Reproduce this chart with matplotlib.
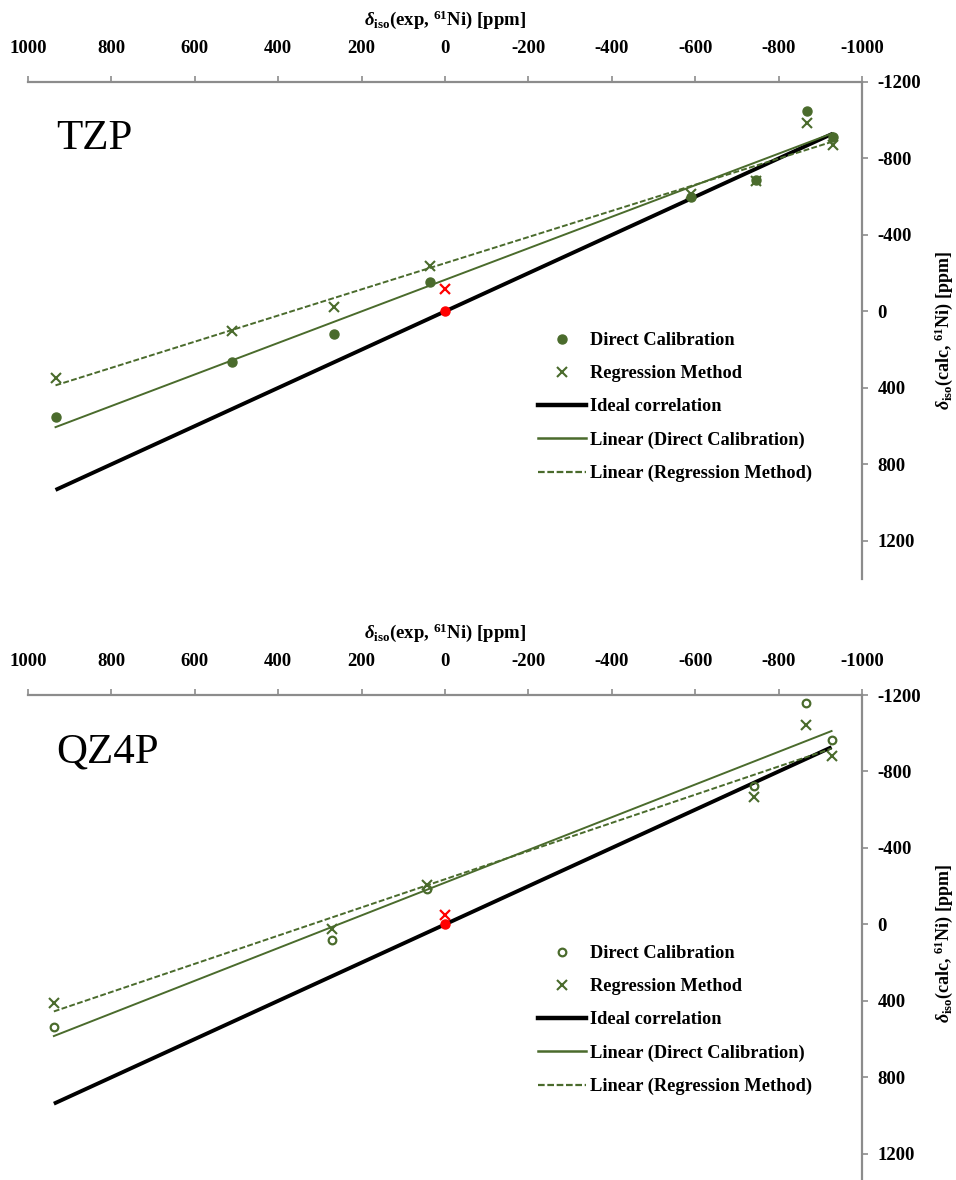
import numpy as np
import matplotlib
matplotlib.use("Agg")
import matplotlib.pyplot as plt
from matplotlib.lines import Line2D

plt.rcParams["font.family"] = ["Liberation Serif", "DejaVu Serif"]
plt.rcParams["mathtext.fontset"] = "custom"
plt.rcParams["mathtext.rm"] = "Liberation Serif:bold"
plt.rcParams["mathtext.bf"] = "Liberation Serif:bold"
plt.rcParams["mathtext.it"] = "Liberation Serif:italic:bold"

# ---- data -------------------------------------------------------------
# TZP basis set
tzp_exp = [934, 511, 265, 37, -591, -745, -868, -930]
tzp_direct = [555, 264, 117, -152, -600, -688, -1048, -913]
tzp_regr = [348, 103, -24, -239, -615, -680, -987, -872]
tzp_ref_exp = [0]
tzp_ref_direct = [0]
tzp_ref_regr = [-117]

# QZ4P basis set
qz_exp = [938, 271, 42, -742, -865, -927]
qz_direct = [535, 82, -185, -722, -1156, -962]
qz_regr = [410, 25, -205, -667, -1045, -881]
qz_ref_exp = [0]
qz_ref_direct = [0]
qz_ref_regr = [-50]

x_ticks = [1000, 800, 600, 400, 200, 0, -200, -400, -600, -800, -1000]
y_ticks = [-1200, -800, -400, 0, 400, 800, 1200]

GREEN = "#4A6B2C"
AXIS_GREY = "#8C8C8C"

W, H = 956, 1180
fig = plt.figure(figsize=(W / 100, H / 100), dpi=100)


def axes_rect(left, right, top, bottom):
    return [left / W, 1 - bottom / H, (right - left) / W, (bottom - top) / H]


xlabel = r"$\mathit{\delta}_{\mathbf{iso}}$(exp, $^{\mathbf{61}}$Ni) [ppm]"
ylabel = r"$\mathit{\delta}_{\mathbf{iso}}$(calc, $^{\mathbf{61}}$Ni) [ppm]"


def panel(rect, name, x, yd, yr, rx, ryd, ryr, hollow):
    ax = fig.add_axes(rect)
    ax.set_xlim(1000, -1000)
    ax.set_ylim(1400, -1200)

    xa = np.array(x, dtype=float)
    xs = np.array([xa.max(), xa.min()])

    # ideal y = x correlation
    ax.plot(xs, xs, color="black", lw=2.8, solid_capstyle="butt", zorder=2)

    # linear trend lines
    cd = np.polyfit(xa, np.array(yd, dtype=float), 1)
    cr = np.polyfit(xa, np.array(yr, dtype=float), 1)
    ax.plot(xs, np.polyval(cd, xs), color=GREEN, lw=1.4, zorder=3)
    ax.plot(xs, np.polyval(cr, xs), color=GREEN, lw=1.4, ls=(0, (3, 1.2)), zorder=3)

    if hollow:
        ckw = dict(marker="o", ms=5.5, mfc="none", mec=GREEN, mew=1.6, ls="none")
    else:
        ckw = dict(marker="o", ms=6.5, mfc=GREEN, mec=GREEN, ls="none")
    xkw = dict(marker="x", ms=7.5, mew=1.5, color=GREEN, ls="none")

    ax.plot(x, yd, zorder=4, **ckw)
    ax.plot(x, yr, zorder=4, **xkw)

    # reference compound
    ax.plot(rx, ryd, marker="o", ms=6.5, color="red", ls="none", zorder=5)
    ax.plot(rx, ryr, marker="x", ms=7.5, mew=1.6, color="red", ls="none", zorder=5)

    # axes styling
    for s in ("left", "bottom"):
        ax.spines[s].set_visible(False)
    for s in ("top", "right"):
        ax.spines[s].set_color(AXIS_GREY)
        ax.spines[s].set_linewidth(1.6)
    ax.xaxis.tick_top()
    ax.yaxis.tick_right()
    ax.set_xticks(x_ticks)
    ax.set_yticks(y_ticks)
    ax.set_xticklabels([str(v) for v in x_ticks])
    ax.set_yticklabels([str(v) for v in y_ticks])
    ax.tick_params(axis="both", direction="out", length=4, width=1.2,
                   color=AXIS_GREY, labelsize=13.5)
    ax.tick_params(axis="x", pad=14)
    ax.tick_params(axis="y", pad=7)
    for lab in ax.get_xticklabels() + ax.get_yticklabels():
        lab.set_fontweight("bold")

    ax.xaxis.set_label_position("top")
    ax.set_xlabel(xlabel, fontsize=13.5, fontweight="bold", labelpad=11)
    ax.yaxis.set_label_position("right")
    ax.set_ylabel(ylabel, fontsize=13, fontweight="bold", labelpad=8,
                  rotation=90)

    ax.text(0.034, 0.885, name, transform=ax.transAxes, fontsize=31,
            va="center", ha="left")

    handles = [
        Line2D([], [], **ckw),
        Line2D([], [], **xkw),
        Line2D([], [], color="black", lw=3.2),
        Line2D([], [], color=GREEN, lw=1.8),
        Line2D([], [], color=GREEN, lw=1.6, ls=(0, (3, 1.2))),
    ]
    labels = ["Direct Calibration", "Regression Method", "Ideal correlation",
              "Linear (Direct Calibration)", "Linear (Regression Method)"]
    ax.legend(handles, labels, loc="upper left",
              bbox_to_anchor=(0.612, 0.497), frameon=False,
              prop={"family": "Liberation Serif", "weight": "bold",
                    "size": 13.2},
              handlelength=2.6, handletextpad=0.2, labelspacing=0.88,
              borderpad=0, borderaxespad=0, numpoints=1)
    return ax


panel(axes_rect(28, 862, 82, 579), "TZP", tzp_exp, tzp_direct, tzp_regr,
      tzp_ref_exp, tzp_ref_direct, tzp_ref_regr, hollow=False)
panel(axes_rect(28, 862, 695, 1192), "QZ4P", qz_exp, qz_direct, qz_regr,
      qz_ref_exp, qz_ref_direct, qz_ref_regr, hollow=True)

fig.savefig("out.png", dpi=100)
